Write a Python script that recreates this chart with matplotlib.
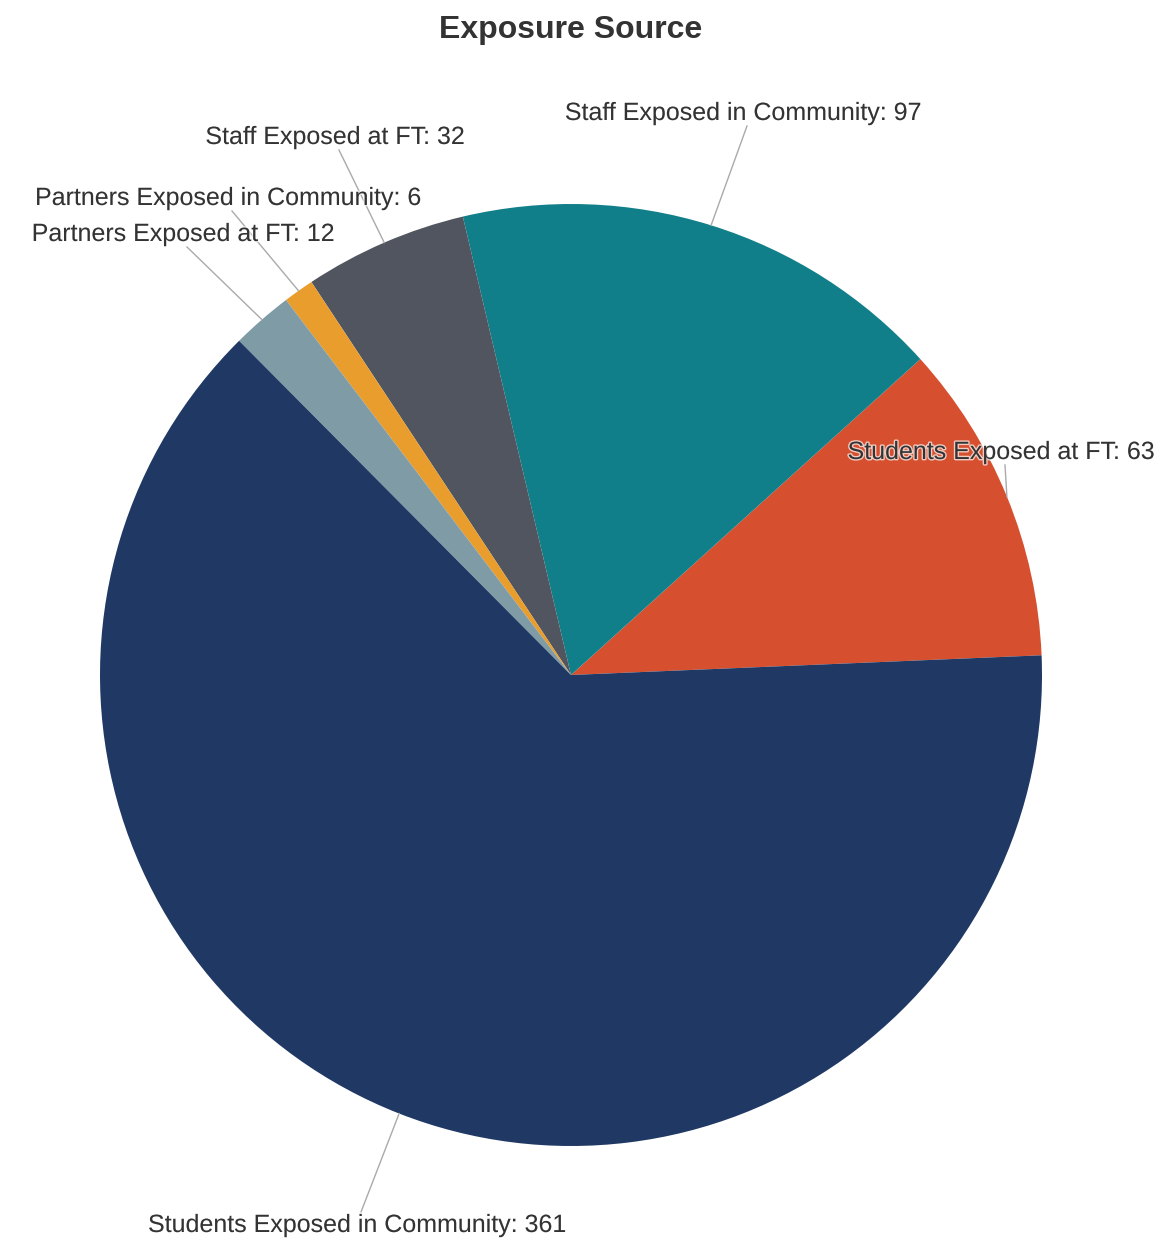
import numpy as np
import matplotlib
matplotlib.use("Agg")
import matplotlib.pyplot as plt
import matplotlib.patheffects as pe

# Data (counter-clockwise from the right)
labels = ["Students Exposed at FT", "Staff Exposed in Community", "Staff Exposed at FT",
          "Partners Exposed in Community", "Partners Exposed at FT",
          "Students Exposed in Community"]
counts = [63, 97, 32, 6, 12, 361]
colors = ["#D64F2F", "#117F89", "#51555F", "#E89D2C", "#7F9CA6", "#203864"]

# label centres in pixels from the top-left (layout only)
label_pos = [(1001, 452), (743, 113), (335, 137), (228, 198), (183, 234), (357, 1225)]

W, H = 1161, 1238
fig = plt.figure(figsize=(W / 100, H / 100), dpi=100)
ax = fig.add_axes([0, 0, 1, 1])

cx, cy, r = 571, H - 675, 471
wedges, _ = ax.pie(counts, colors=colors, startangle=2.4, counterclock=True,
                   center=(cx, cy), radius=r, frame=True,
                   wedgeprops=dict(linewidth=0))
ax.set_xlim(0, W)
ax.set_ylim(0, H)
ax.set_aspect("equal")
ax.axis("off")

halo = [pe.withStroke(linewidth=2, foreground=(1, 1, 1, 0.7))]
for w, lab, n, (lx, ly) in zip(wedges, labels, counts, label_pos):
    mid = np.deg2rad((w.theta1 + w.theta2) / 2)
    ex, ey = cx + r * np.cos(mid), cy + r * np.sin(mid)
    ty = H - ly
    # connector to the near edge of the label
    end_y = ty - 13 if ty > ey else ty + 13
    ax.plot([ex, lx + 4], [ey, end_y], color="#AAAAAA", lw=1, zorder=3)
    ax.text(lx, ty, f"{lab}: {n}", ha="center", va="center", fontsize=18,
            family="Liberation Sans", color="#333333", path_effects=halo, zorder=4)

fig.text(571 / W, 1 - 30 / H, "Exposure Source", ha="center", va="center",
         fontsize=23, fontweight="bold", family="Liberation Sans", color="#333333")

fig.savefig("out.png", dpi=100, facecolor="white")
